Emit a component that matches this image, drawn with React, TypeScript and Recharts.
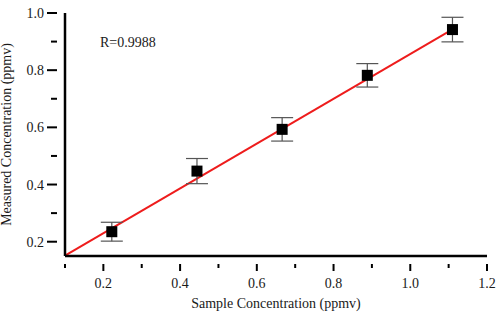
import { ComposedChart, Scatter, XAxis, YAxis, ErrorBar, ReferenceLine, Label } from 'recharts'

const sampleConc = [0.222, 0.444, 0.666, 0.888, 1.11]
const measuredConc = [0.235, 0.447, 0.593, 0.782, 0.942]
const measuredErr = [0.033, 0.044, 0.041, 0.041, 0.043]

const fitX = [0.1, 1.11]
const fitY = [0.151, 0.943]

const xTicks = [0.1, 0.2, 0.3, 0.4, 0.5, 0.6, 0.7, 0.8, 0.9, 1.0, 1.1, 1.2]
const yTicks = [0.2, 0.3, 0.4, 0.5, 0.6, 0.7, 0.8, 0.9, 1.0]
const xMajor = [0.2, 0.4, 0.6, 0.8, 1.0, 1.2]
const yMajor = [0.2, 0.4, 0.6, 0.8, 1.0]

const rValue = 'R=0.9988'

const FONT = '"Liberation Serif", "Times New Roman", serif'
const txt = { fontFamily: FONT, fontSize: 14, fill: '#1a1a1a' }

const points = sampleConc.map((x, i) => ({ x, y: measuredConc[i], err: measuredErr[i] }))

const isMajor = (list: number[], v: number) => list.some(m => Math.abs(m - v) < 1e-6)

function XTick(props: any) {
  const { x, y, payload } = props
  const major = isMajor(xMajor, payload.value)
  return (
    <g>
      <line x1={x} x2={x} y1={y} y2={y + (major ? 7 : 4)} stroke="#000" strokeWidth={2} />
      {major && (
        <text x={x} y={y + 24} textAnchor="middle" style={txt}>
          {payload.value.toFixed(1)}
        </text>
      )}
    </g>
  )
}

function YTick(props: any) {
  const { x, y, payload } = props
  const major = isMajor(yMajor, payload.value)
  return (
    <g>
      <line x1={x} x2={x - (major ? 10 : 6)} y1={y} y2={y} stroke="#000" strokeWidth={2} />
      {major && (
        <text x={x - 13} y={y + 5} textAnchor="end" style={txt}>
          {payload.value.toFixed(1)}
        </text>
      )}
    </g>
  )
}

function SquareMark(props: any) {
  const { cx, cy } = props
  return <rect x={cx - 5.5} y={cy - 5.5} width={11} height={11} fill="#000" />
}

export default function App() {
  return (
    <div style={{ position: 'absolute', left: 0, top: 0, background: '#fff' }}>
      <ComposedChart width={500} height={317} margin={{ top: 13, right: 13, bottom: 0, left: 0 }}>
        <XAxis
          type="number"
          dataKey="x"
          domain={[0.1, 1.2]}
          ticks={xTicks}
          interval={0}
          allowDataOverflow
          axisLine={{ stroke: '#000', strokeWidth: 2.5 }}
          tickLine={false}
          tick={<XTick />}
          height={61}
        >
          <Label value="Sample Concentration (ppmv)" position="insideBottom" offset={9} style={txt} />
        </XAxis>
        <YAxis
          type="number"
          dataKey="y"
          domain={[0.15, 1.0]}
          ticks={yTicks}
          interval={0}
          allowDataOverflow
          axisLine={{ stroke: '#000', strokeWidth: 2.5 }}
          tickLine={false}
          tick={<YTick />}
          width={65}
        >
          <Label value="Measured Concentration (ppmv)" angle={-90} position="insideLeft" offset={6} style={{ ...txt, textAnchor: 'middle' }} />
        </YAxis>
        <ReferenceLine
          segment={[{ x: fitX[0], y: fitY[0] }, { x: fitX[1], y: fitY[1] }]}
          stroke="#ee1c1c"
          strokeWidth={2}
          ifOverflow="visible"
        />
        <Scatter data={points} shape={<SquareMark />} isAnimationActive={false}>
          <ErrorBar dataKey="err" direction="y" width={11} stroke="#555" strokeWidth={1.2} />
        </Scatter>
        <text x={100} y={47} style={txt}>{rValue}</text>
      </ComposedChart>
    </div>
  )
}
